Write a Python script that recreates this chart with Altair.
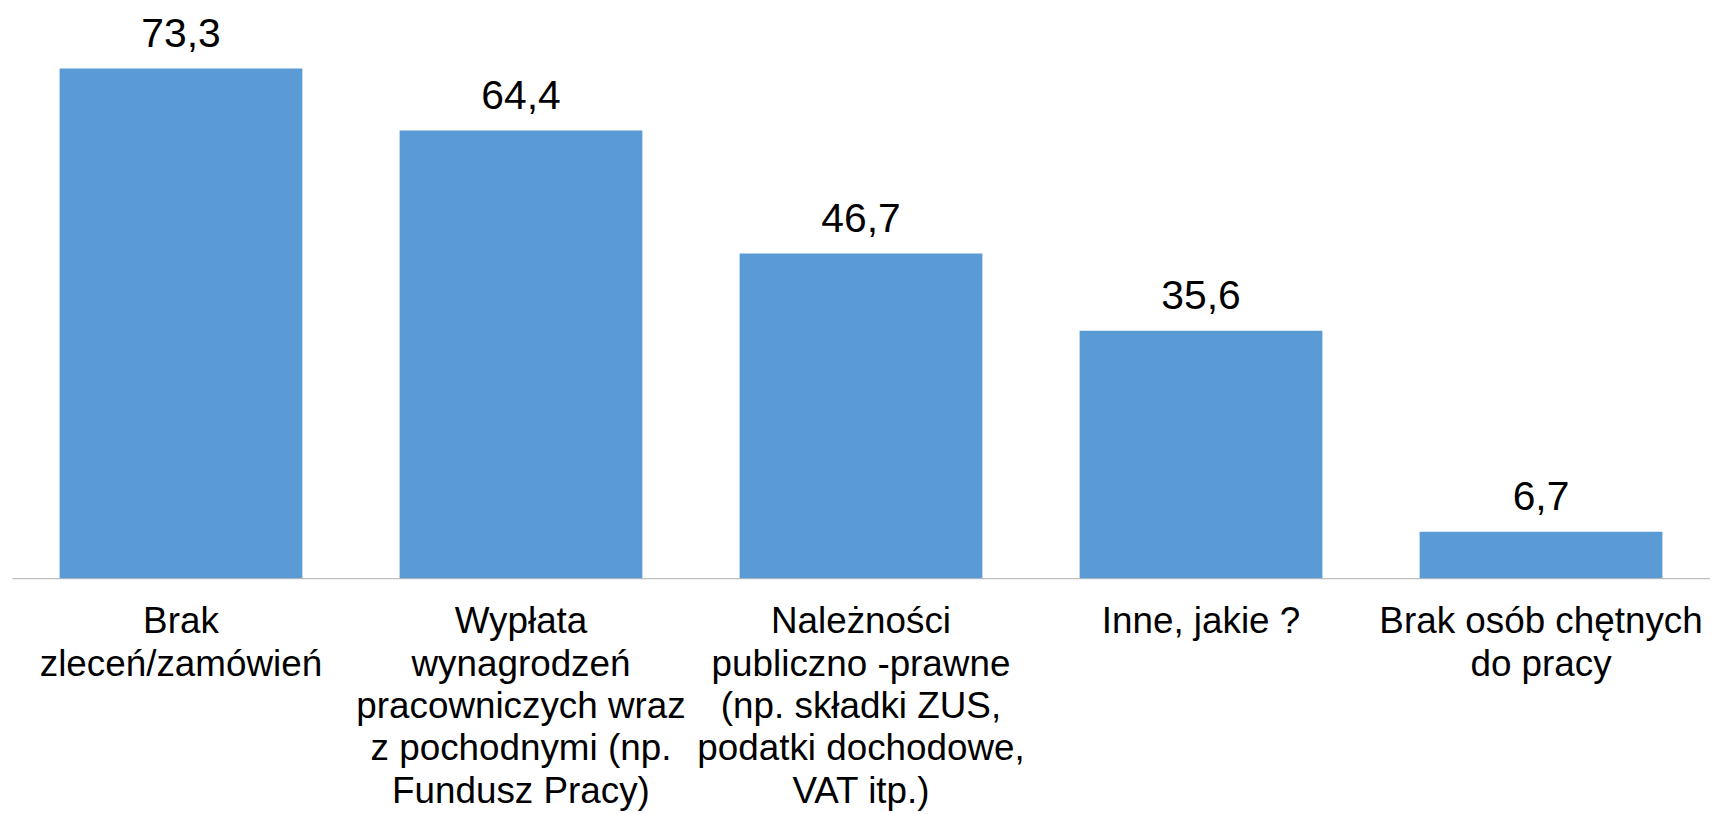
import altair as alt
import pandas as pd

categories = [
    "Brak\nzleceń/zamówień",
    "Wypłata\nwynagrodzeń\npracowniczych wraz\nz pochodnymi (np.\nFundusz Pracy)",
    "Należności\npubliczno -prawne\n(np. składki ZUS,\npodatki dochodowe,\nVAT itp.)",
    "Inne, jakie ?",
    "Brak osób chętnych\ndo pracy",
]
values = [73.3, 64.4, 46.7, 35.6, 6.7]

df = pd.DataFrame({"cat": categories, "val": values})

FONT = "Liberation Sans"

x = alt.X(
    "cat:N",
    sort=categories,
    title=None,
    scale=alt.Scale(paddingInner=0.286, paddingOuter=0.14),
    axis=alt.Axis(
        labelExpr="split(datum.label, '\\n')",
        labelAngle=0,
        labelFontSize=37,
        labelFont=FONT,
        labelColor="#000000",
        labelLineHeight=42.5,
        labelPadding=26,
        labelBaseline="top",
        ticks=False,
        tickSize=0,
        domainColor="#BFBFBF",
        domainWidth=1.3,
        grid=False,
        labelLimit=1000,
    ),
)
y = alt.Y(
    "val:Q",
    scale=alt.Scale(domain=[0, 81.75], nice=False),
    axis=None,
)

bars = alt.Chart(df).mark_bar(color="#5B9BD5").encode(x=x, y=y)

labels = (
    alt.Chart(df)
    .transform_calculate(lab="replace(format(datum.val, '.1f'), '.', ',')")
    .mark_text(baseline="alphabetic", dy=-22, fontSize=41, font=FONT, color="#000000")
    .encode(x=alt.X("cat:N", sort=categories), y=y, text="lab:N")
)

chart = (
    alt.layer(bars, labels)
    .properties(
        width=1706,
        height=571,
        padding={"left": 4, "top": 0, "right": 0, "bottom": 0},
        background="white",
    )
    .configure_view(stroke=None)
)

chart.save("out.html", embed_options={"renderer": "svg", "actions": False})
